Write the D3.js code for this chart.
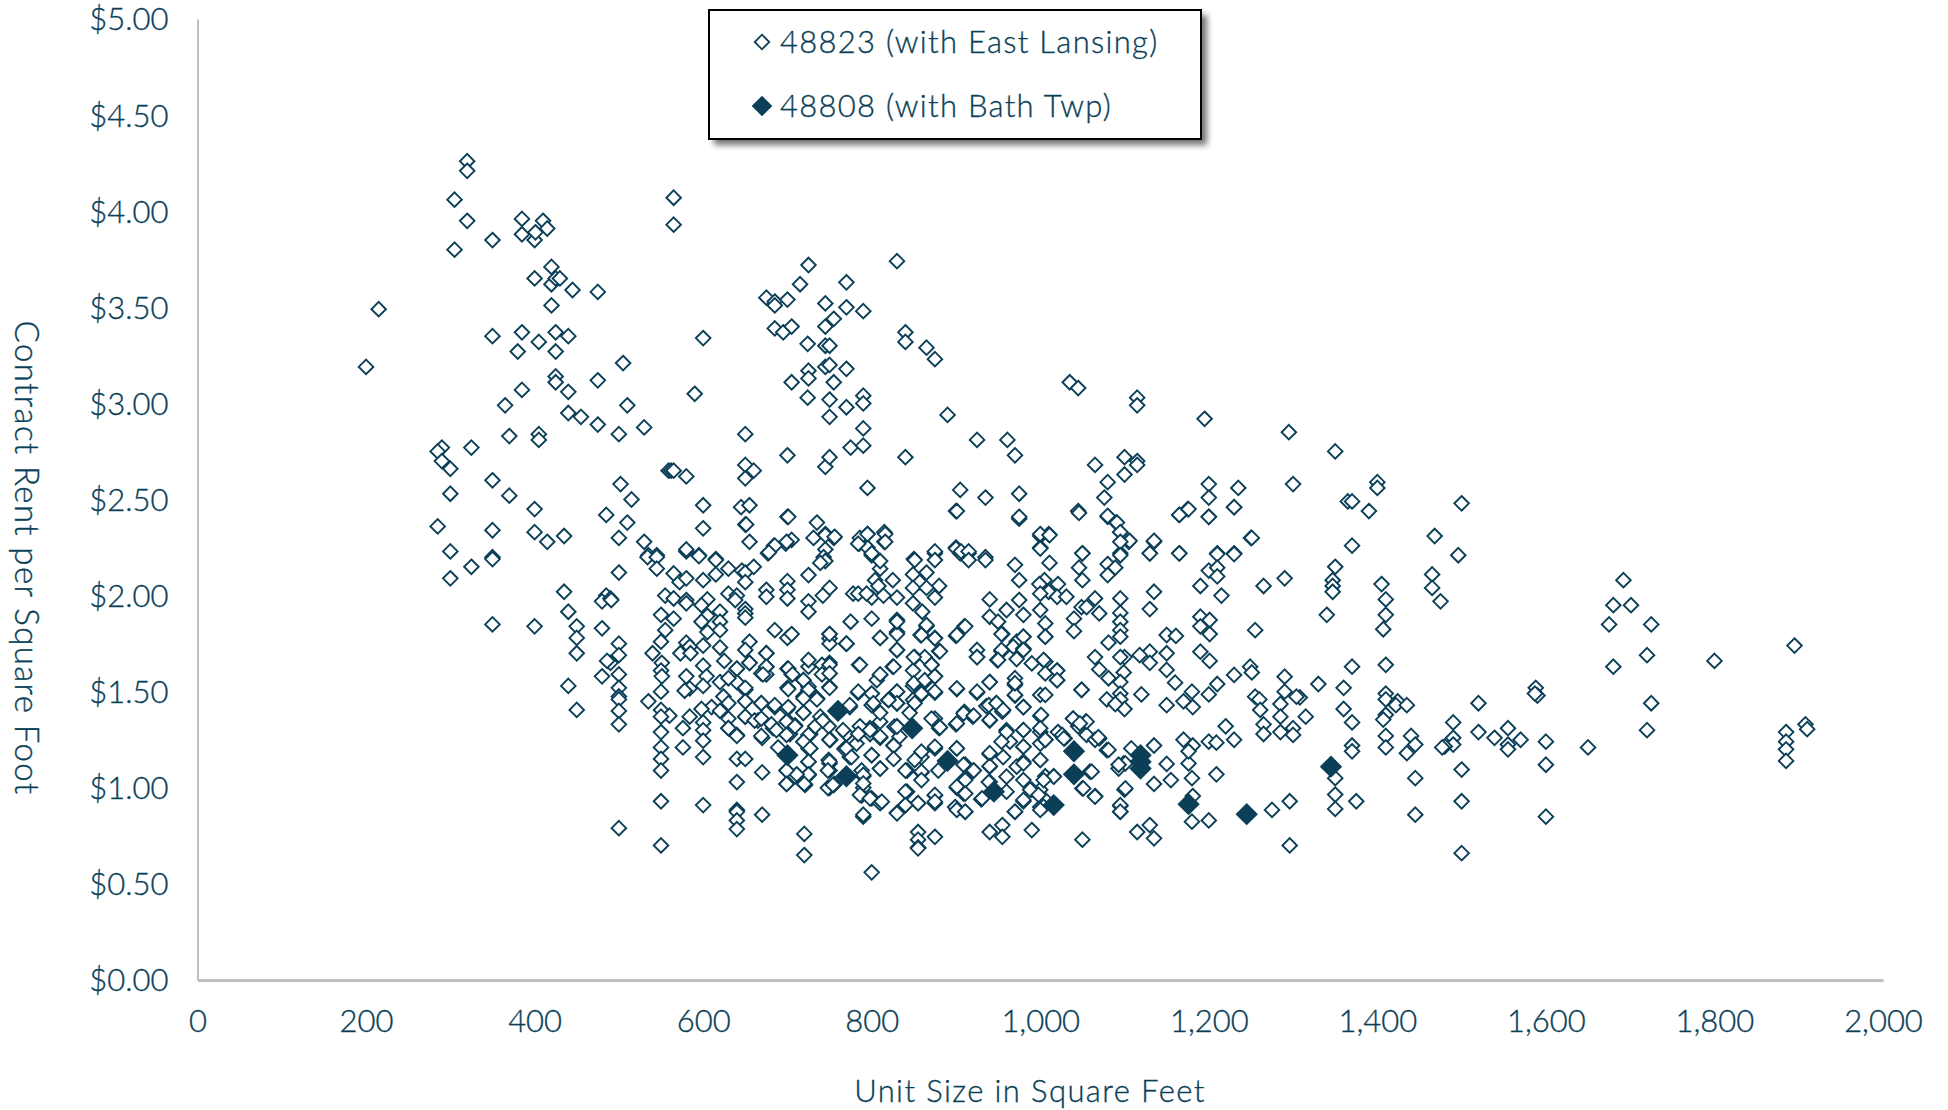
<!DOCTYPE html>
<html><head><meta charset="utf-8">
<script src="https://cdn.jsdelivr.net/npm/d3@7"></script>
<style>html,body{margin:0;padding:0;background:#fff}svg{display:block}text{font-family:Lato,"Noto Sans",sans-serif;font-weight:300;fill:#0B3F58;stroke:#0B3F58;stroke-width:.35px}</style>
</head><body><svg id="c" width="1948" height="1110"></svg>
<script>
const xTicks=[0,200,400,600,800,1000,1200,1400,1600,1800,2000];
const yTicks=[0,0.5,1,1.5,2,2.5,3,3.5,4,4.5,5];
const seriesNames=["48823 (with East Lansing)","48808 (with Bath Twp)"];
const xTitle="Unit Size in Square Feet";
const yTitle="Contract Rent per Square Foot";
const rent48808=[[700,1.17],[760,1.40],[770,1.06],[848,1.31],[890,1.14],[945,.98],[1016,.91],[1040,1.19],[1040,1.07],[1119,1.17],[1119,1.135],[1119,1.10],[1176,.915],[1245,.863],[1345,1.11]];
const rent48823=[
[200,3.19],[215,3.49],[320,4.26],[320,4.21],[305,4.06],[320,3.95],[305,3.80],[350,3.85],[385,3.96],[385,3.88],[400,3.85],[401,3.89],[410,3.95],[415,3.91],[420,3.71],[400,3.65],[420,3.62],[425,3.65],[430,3.65],[445,3.59],[475,3.58],[420,3.51],[350,3.35],[385,3.37],[405,3.32],[425,3.37],[440,3.35],[380,3.27],[425,3.27],[505,3.21],[425,3.14],[425,3.11],[475,3.12],[440,3.06],[385,3.07],[365,2.99],[510,2.99],[440,2.95],[455,2.93],[475,2.89],[530,2.875],[500,2.84],[370,2.83],[405,2.84],[405,2.81],[290,2.77],[285,2.75],[290,2.70],[300,2.66],[325,2.77],[559,2.65],[562,2.65],[565,2.65],[580,2.62],[350,2.60],[300,2.53],[370,2.52],[502,2.58],[515,2.50],[400,2.45],[485,2.42],[510,2.38],[285,2.36],[350,2.34],[400,2.33],[415,2.28],[435,2.31],[500,2.30],[530,2.28],[300,2.23],[350,2.20],[565,3.93],[565,4.07],[580,2.23],[535,2.21],[545,2.21],
[725,3.72],[715,3.62],[675,3.55],[685,3.53],[685,3.51],[700,3.54],[770,3.63],[830,3.74],[745,3.52],[770,3.50],[790,3.48],[600,3.34],[685,3.39],[695,3.37],[705,3.40],[755,3.44],[745,3.40],[724,3.31],[745,3.30],[750,3.30],[840,3.37],[840,3.32],[865,3.29],[875,3.23],[725,3.17],[745,3.19],[750,3.20],[770,3.18],[725,3.13],[705,3.11],[755,3.11],[590,3.05],[724,3.03],[750,3.02],[770,2.98],[790,3.04],[790,3.00],[750,2.93],[790,2.87],[775,2.77],[790,2.78],[890,2.94],[650,2.84],[700,2.73],[745,2.67],[750,2.72],[840,2.72],[925,2.81],[961,2.81],[970,2.73],[1035,3.11],[1045,3.08],[1115,3.03],[1115,2.99],[1195,2.92],[1295,2.85],[1350,2.75],[1065,2.68],[1100,2.72],[1115,2.70],[1115,2.68],[1100,2.63],[1080,2.59],[1076,2.51],[1045,2.44],[1080,2.41],[1090,2.38],[1095,2.33],[1105,2.28],[1135,2.28],[1250,2.30],[1200,2.58],[1200,2.51],[1200,2.41],[1235,2.56],[1230,2.46],[1165,2.42],[1175,2.45],[1300,2.58],[1365,2.49],[650,2.68],[660,2.65],[650,2.61],[600,2.47],[600,2.35],[645,2.46],[655,2.47],[650,2.37],[655,2.28],[700,2.41],[735,2.38],[731,2.30],[745,2.32],[755,2.30],[795,2.56],[905,2.55],[935,2.51],[975,2.53],[900,2.44],[975,2.40],[795,2.32],[815,2.33],[815,2.28],[785,2.27],[786,2.30],[795,2.25],[800,2.21],[705,2.29],[684,2.26],[677,2.22],[698,2.27],[745,2.24],[743,2.2],[595,2.21],[615,2.19],[850,2.19],[875,2.22],[900,2.25],[905,2.22],[915,2.22],[935,2.2],[1000,2.25],[1010,2.32],[1000,2.31],[1050,2.22],[1095,2.22],[1130,2.22],[1165,2.22],[1210,2.22],[1230,2.22],
[1400,2.59],[1400,2.56],[1370,2.49],[1390,2.44],[1500,2.48],[1468,2.31],[1370,2.26],[1496,2.21],[1350,2.15],[1347,2.08],[1347,2.05],[1347,2.02],[1340,1.90],[1405,2.06],[1410,1.98],[1410,1.90],[1407,1.825],[1465,2.11],[1465,2.04],[1475,1.97],[1692,2.08],[1680,1.95],[1701,1.95],[1675,1.85],[1725,1.85],[1720,1.69],[1680,1.63],[1800,1.66],[1895,1.74],[1725,1.44],[1720,1.30],[1370,1.63],[1410,1.64],[1330,1.54],[1360,1.52],[1410,1.49],[1410,1.46],[1424,1.45],[1422,1.43],[1435,1.43],[1360,1.41],[1370,1.34],[1315,1.37],[1308,1.47],[1410,1.38],[1407,1.355],[1520,1.44],[1588,1.52],[1590,1.48],[1587,1.49],[1490,1.34],[1490,1.26],[1490,1.225],[1480,1.215],[1477,1.21],[1520,1.29],[1539,1.26],[1555,1.31],[1570,1.25],[1555,1.225],[1555,1.20],[1600,1.24],[1600,1.12],[1600,.85],[1650,1.21],[1885,1.29],[1885,1.24],[1885,1.20],[1885,1.14],[1908,1.33],[1910,1.305],[1410,1.27],[1410,1.21],[1440,1.27],[1445,1.225],[1435,1.18],[1370,1.22],[1370,1.19],[1350,1.05],[1350,.965],[1350,.89],[1375,.93],[1445,1.05],[1445,.86],[1500,1.095],[1500,.93],[1500,.66],
[325,2.15],[350,2.19],[300,2.09],[534,2.20],[545,2.20],[545,2.14],[500,2.12],[580,2.24],[595,2.205],[615,2.185],[615,2.11],[630,2.14],[646,2.13],[650,2.12],[660,2.15],[650,2.07],[565,2.115],[572,2.07],[580,2.09],[600,2.08],[435,2.02],[440,1.916],[450,1.84],[450,1.78],[450,1.70],[440,1.53],[450,1.405],[485,2.00],[480,1.97],[490,1.985],[491,1.977],[350,1.85],[400,1.84],[480,1.83],[500,1.75],[500,1.69],[490,1.65],[486,1.66],[500,1.59],[480,1.58],[500,1.52],[500,1.475],[500,1.46],[500,1.40],[500,1.33],[500,.79],[550,.70],[550,.93],[600,.91],[640,.885],[640,.875],[640,.83],[640,.785],[670,.86],[720,.76],[720,.65],[555,2.00],[565,1.985],[580,1.977],[580,1.96],[605,1.98],[598,1.95],[630,2.01],[640,2.0],[638,1.977],[650,1.93],[650,1.907],[650,1.885],[675,2.03],[675,1.994],[700,2.075],[700,2.03],[700,1.985],[725,2.107],[701,2.41],[745,2.315],[756,2.306],[745,2.18],[739,2.17],[699,2.28],[685,2.26],[678,2.225],[651,2.37],[750,2.04],[742,2.0],[725,1.97],[725,1.916],[550,1.90],[565,1.88],[555,1.82],[550,1.76],[540,1.70],[551,1.65],[550,1.61],[551,1.58],[550,1.50],[535,1.45],[550,1.405],[560,1.375],[550,1.37],[550,1.29],[550,1.21],[550,1.15],[550,1.09],[605,1.895],[598,1.864],[620,1.916],[620,1.864],[605,1.81],[620,1.82],[600,1.74],[620,1.73],[625,1.66],[580,1.755],[584,1.734],[573,1.70],[585,1.70],[600,1.635],[580,1.58],[604,1.58],[600,1.53],[584,1.517],[578,1.505],[620,1.55],[640,1.62],[640,1.55],[630,1.57],[655,1.76],[650,1.717],[655,1.65],[675,1.70],[675,1.63],[675,1.59],[669,1.595],[685,1.82],[700,1.78],[705,1.80],[584,1.37],[576,1.31],[576,1.21],[600,1.34],[600,1.30],[600,1.245],[600,1.16],[640,1.15],[650,1.15],[670,1.08],[640,1.03],[610,1.42],[598,1.41],[624,1.475],[630,1.44],[620,1.40],[650,1.51],[650,1.45],[650,1.37],[630,1.36],[630,1.31],[640,1.275],[669,1.44],[685,1.42],[665,1.35],[670,1.26],[689,1.21],[683,1.31],[700,1.62],[705,1.59],[700,1.52],[725,1.63],[725,1.51],[719,1.56],[750,1.80],[750,1.777],[750,1.75],[750,1.65],[750,1.595],[750,1.525],[741,1.64],[735,1.465],[700,1.41],[719,1.475],[700,1.35],[719,1.39],[709,1.325],[726,1.275],[703,1.28],[725,1.205],[719,1.24],[750,1.25],[750,1.127],[750,1.09],[699,1.09],[709,1.06],[725,1.065],[699,1.02],[720,1.02],[750,1.00],[756,1.02],[768,1.205],[770,1.75],
[795,2.32],[784,2.27],[816,2.32],[816,2.28],[800,2.22],[810,2.14],[810,2.18],[825,2.08],[804,2.08],[808,2.05],[800,1.99],[814,2.0],[830,1.99],[778,2.01],[784,2.01],[794,2.01],[851,2.185],[875,2.23],[875,2.185],[865,2.12],[849,2.11],[857,2.07],[880,2.05],[849,2.04],[865,2.04],[875,1.99],[849,1.96],[860,1.916],[901,2.44],[900,2.245],[906,2.23],[915,2.23],[915,2.185],[935,2.185],[970,2.16],[975,2.08],[975,2.41],[1046,2.43],[1080,2.415],[1091,2.38],[1095,2.33],[1106,2.285],[1095,2.28],[1135,2.285],[1130,2.22],[1165,2.22],[1165,2.42],[1176,2.45],[1200,2.41],[1230,2.46],[1251,2.30],[1210,2.216],[1230,2.216],[1200,2.13],[1210,2.145],[1210,2.10],[1190,2.05],[1215,2.0],[1265,2.05],[1290,2.09],[1135,2.02],[1130,1.93],[1255,1.82],[1000,2.32],[1011,2.315],[1000,2.245],[1011,2.17],[1050,2.22],[1046,2.145],[1050,2.08],[1095,2.21],[1080,2.164],[1089,2.145],[1080,2.107],[1095,1.985],[1095,1.91],[1095,1.864],[1095,1.82],[1095,1.786],[1005,2.08],[999,2.06],[1010,2.02],[1000,2.01],[1021,2.06],[1020,1.994],[1031,1.994],[1049,1.94],[1055,1.94],[1065,1.985],[1070,1.907],[1040,1.88],[1040,1.815],[1000,1.925],[1006,1.855],[1006,1.786],[940,1.98],[975,1.977],[960,1.925],[980,1.9],[940,1.89],[950,1.864],[955,1.80],[980,1.786],[972,1.76],[954,1.71],[925,1.717],[925,1.68],[949,1.665],[968,1.734],[980,1.725],[972,1.67],[990,1.647],[1006,1.656],[1006,1.595],[1020,1.61],[1020,1.56],[940,1.55],[925,1.495],[901,1.514],[970,1.57],[970,1.535],[970,1.48],[980,1.42],[910,1.84],[900,1.79],[875,1.78],[865,1.84],[858,1.795],[880,1.71],[830,1.873],[830,1.81],[810,1.78],[800,1.88],[775,1.864],[770,1.75],[785,1.64],[830,1.717],[825,1.63],[810,1.587],[806,1.56],[800,1.49],[784,1.495],[830,1.5],[820,1.457],[830,1.44],[800,1.43],[851,1.68],[863,1.68],[871,1.64],[849,1.61],[863,1.55],[875,1.58],[849,1.53],[875,1.495],[860,1.49],[849,1.457],[845,1.39],[900,1.33],[910,1.395],[920,1.37],[875,1.36],[880,1.31],[830,1.32],[810,1.344],[798,1.31],[810,1.26],[826,1.22],[800,1.17],[810,1.10],[774,1.16],[790,1.06],[790,1.0],[788,.96],[800,.945],[810,.92],[790,.85],[800,.56],[755,1.015],[855,.77],[855,.73],[855,.69],[875,.745],[855,.685],[940,.77],[955,.806],[955,.745],[990,.78],[1050,.73],[1115,.77],[1130,.806],[1135,.737],[1296,.93],[1275,.885],[1296,.70],[1180,.824],[1200,.83],[1181,.957],[1209,1.07],[1180,1.05],[1176,1.127],[1170,1.25],[1181,1.22],[1200,1.24],[1209,1.235],[1220,1.32],[1230,1.25],[1176,1.19],[1150,1.124],[1135,1.22],[1135,1.02],[1155,1.04],[1099,1.127],[1093,1.10],[1100,.99],[1095,.905],[1095,.875],[1065,.957],[1079,1.196],[1070,1.257],[1054,1.344],[1039,1.36],[1045,1.32],[1059,1.084],[1050,.997],[1029,1.257],[1021,1.29],[1055,1.275],[1065,1.25],[1108,1.205],[1000,1.373],[1000,1.29],[1000,1.23],[1006,1.25],[1000,1.145],[1006,1.06],[1016,1.06],[1000,.99],[1000,.90],[1006,.937],[980,1.30],[980,1.214],[980,1.136],[972,1.11],[980,1.04],[990,.99],[980,.93],[970,.875],[955,1.396],[948,1.44],[936,1.425],[940,1.35],[960,1.30],[964,1.24],[940,1.175],[940,1.11],[956,1.16],[960,.98],[940,1.03],[930,.94],[901,1.205],[911,1.12],[921,1.09],[911,1.05],[901,1.0],[909,.97],[899,.90],[911,.875],[859,1.16],[859,1.08],[875,1.205],[879,1.09],[842,1.09],[842,.98],[855,.92],[875,.96],[875,.92],[840,.91],[830,.87],[725,1.526],[735,1.465],[749,1.32],[739,1.37],[727,1.28],[751,1.25],[727,1.205],[725,1.135],[749,1.145],[725,1.07],[721,1.015],[749,1.0],[770,1.28],[782,1.23],[768,1.2],[788,1.09],[798,1.28],[810,1.39],[786,1.32],[774,1.42],[1255,1.474],[1260,1.46],[1261,1.405],[1265,1.33],[1265,1.28],[1285,1.436],[1290,1.578],[1290,1.5],[1304,1.474],[1285,1.37],[1300,1.31],[1300,1.275],[1285,1.29],[1249,1.63],[1251,1.6],[1230,1.587],[1210,1.54],[1200,1.486],[1180,1.5],[1170,1.45],[1181,1.42],[1150,1.43],[1160,1.547],[1150,1.613],[1150,1.70],[1130,1.708],[1130,1.65],[1118,1.69],[1201,1.66],[1190,1.708],[1120,1.486],[1100,1.68],[1095,1.68],[1099,1.6],[1095,1.55],[1095,1.49],[1095,1.46],[1100,1.41],[1079,1.46],[1089,1.436],[1065,1.68],[1070,1.616],[1081,1.57],[1081,1.755],[1049,1.51],[1190,1.89],[1190,1.84],[1201,1.873],[1201,1.8],[1150,1.795],[1161,1.79],
[640,1.62],[655,1.65],[675,1.70],[675,1.63],[671,1.59],[650,1.52],[650,1.45],[650,1.37],[630,1.31],[640,1.27],[669,1.44],[685,1.43],[669,1.27],[661,1.35],[669,1.36],[681,1.33],[701,1.62],[706,1.59],[701,1.514],[701,1.42],[719,1.56],[725,1.665],[725,1.51],[719,1.465],[719,1.39],[735,1.46],[741,1.59],[750,1.64],[750,1.595],[750,1.52],[750,1.80],[770,1.75],[786,1.64],[810,1.59],[810,1.78],[800,1.49],[784,1.50],[802,1.44],[820,1.457],[774,1.43],[699,1.344],[709,1.32],[687,1.30],[699,1.275],[725,1.275],[719,1.24],[733,1.32],[742,1.35],[750,1.25],[727,1.205],[725,1.136],[725,1.07],[711,1.07],[699,1.09],[699,1.02],[720,1.02],[750,1.136],[748,1.09],[770,1.205],[776,1.16],[766,1.30],[784,1.28],[798,1.30],[810,1.266],[826,1.22],[800,1.17],[810,1.10],[790,1.067],[790,1.023],[786,.963],[798,.945],[812,.928],[790,.86],[748,1.0],[754,1.015],[827,1.318],[833,1.266],
[830,1.717],[826,1.63],[850,1.68],[850,1.544],[859,1.49],[875,1.50],[863,1.56],[871,1.64],[875,1.58],[881,1.71],[830,1.50],[830,1.44],[820,1.457],[851,1.44],[830,1.318],[826,1.22],[826,1.15],[871,1.36],[881,1.315],[875,1.214],[859,1.188],[859,1.084],[859,1.04],[851,1.145],[840,1.09],[840,.98],[875,.963],[875,.928],[855,.92],[840,.91],[830,.867],[901,1.517],[925,1.50],[940,1.55],[909,1.387],[921,1.375],[901,1.335],[901,1.205],[909,1.12],[921,1.09],[911,1.04],[901,1.006],[911,.97],[901,.885],[911,.876],[931,.945],[940,1.18],[940,1.113],[939,1.03],[960,1.29],[954,1.24],[980,1.30],[980,1.214],[980,1.127],[960,1.058],[988,.99],[980,.937],[970,.876],[939,1.43],[948,1.44],[956,1.405],[940,1.353],[980,1.42],[970,1.483],[970,1.544],[1000,1.483],[1006,1.483],[1001,1.379],[1000,1.31],[1006,1.25],[1026,1.275],[1000,1.145],[1016,1.058],[1004,1.04],[998,.963],[1004,.902],[1000,.885],[954,1.80],[980,1.786],[980,1.717],[954,1.717],[925,1.68],[950,1.665],[1006,1.786],[1004,1.665],[1020,1.61],[1020,1.56],[1049,1.51],[1039,1.36],[1055,1.344],[1047,1.335],[1028,1.257],[1069,1.263],[1081,1.197],[1051,.997],[1065,.954],[1061,1.084],[1101,.997],[1095,.91],[1095,.876],[1101,1.127],[1093,1.12],[865,1.847],[911,1.84],[901,1.795],[875,1.778],[859,1.795],[830,1.80],[830,1.864]];

const svg=d3.select("#c");
const x=d3.scaleLinear().domain([0,2000]).range([197.5,1883]);
const y=d3.scaleLinear().domain([0,5]).range([980,19]);
const fs=31, ink="#0B3F58";
const diamond=r=>d3.symbol().type(d3.symbolDiamond2).size((r/0.62625)**2)();

svg.append("defs").html('<filter id="sh" x="-5%" y="-10%" width="112%" height="125%"><feGaussianBlur stdDeviation="3"/></filter>');

const ax=svg.append("g").attr("transform","translate(0,980)")
 .call(d3.axisBottom(x).tickValues(xTicks).tickFormat(d3.format(",")).tickSize(0).tickPadding(30));
ax.select(".domain").attr("stroke","#BFBFBF").attr("stroke-width",3);
ax.selectAll("text").attr("font-size",fs);
const ay=svg.append("g").attr("transform","translate(197.5,1)")
 .call(d3.axisLeft(y).tickValues(yTicks).tickFormat(d3.format("$.2f")).tickSize(0).tickPadding(29));
ay.select(".domain").attr("stroke","#BFBFBF").attr("stroke-width",2).attr("transform","translate(0,-1)");
ay.selectAll("text").attr("font-size",fs);
ax.selectAll("text").style("fill",ink); ay.selectAll("text").style("fill",ink);

svg.append("text").attr("x",1030).attr("y",1102).attr("text-anchor","middle").attr("font-size",fs).style("letter-spacing","1.4px").text(xTitle);
svg.append("text").attr("transform","translate(15,558) rotate(90)").attr("text-anchor","middle").attr("font-size",33).style("letter-spacing","1.4px").text(yTitle);

const dOpen=diamond(7.3), dFill=diamond(11.2);
svg.append("g").selectAll("path").data(rent48823).join("path")
 .attr("d",dOpen).attr("transform",d=>`translate(${x(d[0])},${y(d[1])})`)
 .attr("fill","#fff").attr("stroke",ink).attr("stroke-width",1.9);
svg.append("g").selectAll("path").data(rent48808).join("path")
 .attr("d",dFill).attr("transform",d=>`translate(${x(d[0])},${y(d[1])})`)
 .attr("fill",ink);

// legend
const lg=svg.append("g");
lg.append("rect").attr("x",714).attr("y",15).attr("width",493).attr("height",130).attr("fill","#000").attr("opacity",.55).attr("filter","url(#sh)");
lg.append("rect").attr("x",709).attr("y",10).attr("width",492).attr("height",129).attr("fill","#fff").attr("stroke","#000").attr("stroke-width",2);
const legY=[42,106];
seriesNames.forEach((n,i)=>{
 lg.append("path").attr("transform",`translate(762,${legY[i]})`)
  .attr("d",i?diamond(10.3):dOpen)
  .attr("fill",i?ink:"#fff").attr("stroke",i?"none":ink).attr("stroke-width",1.8);
 lg.append("text").attr("x",780).attr("y",legY[i]+11).attr("font-size",fs).style("letter-spacing","1.3px").text(n);
});
</script></body></html>
